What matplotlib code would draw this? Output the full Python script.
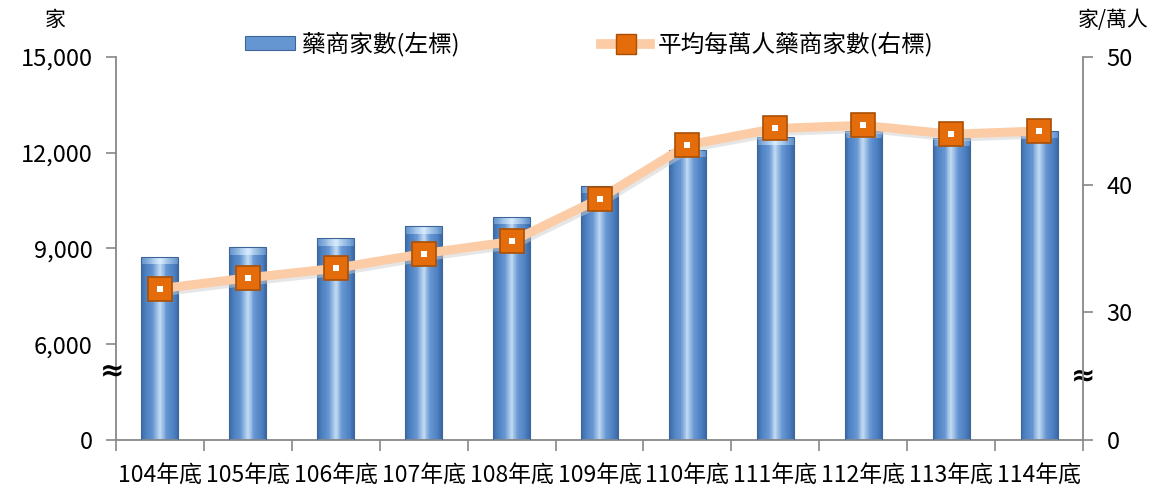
import numpy as np
import matplotlib
matplotlib.use("Agg")
import matplotlib.pyplot as plt
from matplotlib.lines import Line2D
from matplotlib.patches import Rectangle
from matplotlib.colors import LinearSegmentedColormap
import matplotlib.transforms as mtransforms

plt.rcParams['font.family'] = ['Noto Sans CJK TC', 'DejaVu Sans']

categories = ['104年底', '105年底', '106年底', '107年底', '108年底', '109年底',
              '110年底', '111年底', '112年底', '113年底', '114年底']
stores = [8730, 9040, 9320, 9690, 10000, 10970, 12090, 12480, 12690, 12450, 12690]
per_10k = [31.85, 32.7, 33.45, 34.6, 35.55, 38.9, 43.1, 44.4, 44.65, 43.95, 44.2]
left_ticks = [0, 6000, 9000, 12000, 15000]
right_ticks = [0, 30, 40, 50]
bar_label = '藥商家數(左標)'
line_label = '平均每萬人藥商家數(右標)'
left_unit = '家'
right_unit = '家/萬人'

# broken-axis scales (lower part compressed)
def lf(v):
    v = np.asarray(v, dtype=float)
    return np.where(v < 6000, v * 96 / 6000, 96 + (v - 6000) * 96 / 3000)

def li(t):
    t = np.asarray(t, dtype=float)
    return np.where(t < 96, t * 6000 / 96, 6000 + (t - 96) * 3000 / 96)

def rf(v):
    v = np.asarray(v, dtype=float)
    return np.where(v < 30, v * 128 / 30, 128 + (v - 30) * 12.8)

def ri(t):
    t = np.asarray(t, dtype=float)
    return np.where(t < 128, t * 30 / 128, 30 + (t - 128) / 12.8)

fig = plt.figure(figsize=(11.51, 4.87), dpi=100)
ax = fig.add_axes([116 / 1151, 47 / 487, 967 / 1151, 383 / 487])
ax2 = ax.twinx()
ax.set_yscale('function', functions=(lf, li))
ax2.set_yscale('function', functions=(rf, ri))

x = np.arange(len(categories))
width = 0.42

# gradient bars built from thin vertical strips
cmap = LinearSegmentedColormap.from_list(
    'barg', [(0.0, '#3a68a6'), (0.12, '#4c80c0'), (0.32, '#6696d2'),
             (0.5, '#c3daf2'), (0.68, '#6696d2'), (0.88, '#4c80c0'), (1.0, '#3a68a6')])
n = 40
for i in range(n):
    frac = (i + 0.5) / n
    off = -width / 2 + i * width / n
    ax.bar(x + off, stores, width=width / n * 1.02, align='edge', color=cmap(frac),
           linewidth=0, zorder=2)
# top bevel highlight
capcm = LinearSegmentedColormap.from_list(
    'capg', [(0.0, '#5c8fcb'), (0.5, '#d8ecff'), (1.0, '#5c8fcb')])
cap = 230
for i in range(n):
    frac = (i + 0.5) / n
    off = -width / 2 + i * width / n
    ax.bar(x + off, [cap] * len(x), bottom=np.array(stores) - cap,
           width=width / n * 1.02, align='edge', color=capcm(frac), linewidth=0, zorder=2.5)
# outline
ax.bar(x, stores, width=width, facecolor='none', edgecolor='#3d6598', linewidth=0.8, zorder=3)

ax.set_xlim(-0.5, len(categories) - 0.5)
ax.set_ylim(0, 15000)
ax2.set_ylim(0, 50)

# line with soft shadow
shadow = ax2.transData + mtransforms.ScaledTranslation(2 / 100, -3 / 100, fig.dpi_scale_trans)
ax2.plot(x, per_10k, color='#cfcfcf', linewidth=6.5, alpha=0.5, zorder=3, transform=shadow)
ax2.plot(x, per_10k, color='#fbcca6', linewidth=6.5, solid_capstyle='butt', zorder=4)
ax2.plot(x, per_10k, linestyle='none', marker='s', markersize=17,
         markerfacecolor='#e46c0a', markeredgecolor='#a94f05', markeredgewidth=1.2, zorder=5)
ax2.plot(x, per_10k, linestyle='none', marker='s', markersize=5,
         markerfacecolor='white', markeredgecolor='white', markeredgewidth=0, zorder=6)

# axes styling
axis_col = '#888888'
for a in (ax, ax2):
    a.spines['top'].set_visible(False)
    for s in ('left', 'right', 'bottom'):
        a.spines[s].set_color(axis_col)
        a.spines[s].set_linewidth(1.3)
ax.spines['right'].set_visible(False)
ax2.spines['left'].set_visible(False)
ax2.spines['bottom'].set_visible(False)

ax.set_yticks(left_ticks)
ax.set_yticklabels([f'{v:,}' for v in left_ticks])
ax2.set_yticks(right_ticks)
ax2.set_yticklabels([str(v) for v in right_ticks])
ax.tick_params(axis='y', direction='out', length=7, width=1.2, color=axis_col,
               labelsize=17, pad=10, labelcolor='black')
ax2.tick_params(axis='y', direction='out', length=7, width=1.2, color=axis_col,
                labelsize=17, pad=10, labelcolor='black')

ax.set_xticks(x)
ax.set_xticklabels(categories)
ax.set_xticks(np.arange(len(categories) + 1) - 0.5, minor=True)
ax.tick_params(axis='x', which='major', length=0, labelsize=16.5, pad=18)
ax.tick_params(axis='x', which='minor', length=8, width=1.2, color=axis_col, direction='out')

# axis-break symbols
ax.text(-0.004, 0.18, '≈', transform=ax.transAxes, ha='center', va='center',
        fontsize=21, fontweight='bold', family='DejaVu Sans', clip_on=False, zorder=10)
ax.text(1.0, 0.165, '≈', transform=ax.transAxes, ha='center', va='center',
        fontsize=21, fontweight='bold', family='DejaVu Sans', clip_on=False, zorder=10)

# unit labels
fig.text(55 / 1151, 1 - 20 / 487, left_unit, ha='center', va='center', fontsize=15)
fig.text(1113 / 1151, 1 - 20 / 487, right_unit, ha='center', va='center', fontsize=15)

# legend
h1 = Rectangle((0, 0), 1, 1, facecolor='#6696d2', edgecolor='#3d6598', linewidth=0.8)
h2 = Line2D([], [], color='#fbcca6', linewidth=7, marker='s', markersize=15,
            markerfacecolor='#e46c0a', markeredgecolor='#a94f05')
fig.legend([h1, h2], [bar_label, line_label], loc='center', bbox_to_anchor=(589 / 1151, 1 - 44 / 487),
           ncol=2, frameon=False, fontsize=17, columnspacing=6.0, handlelength=2.1,
           handletextpad=0.3, handleheight=0.55)

fig.savefig('out.png', dpi=100)
